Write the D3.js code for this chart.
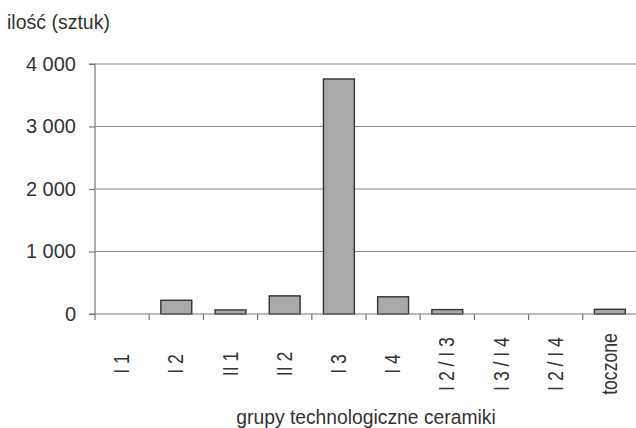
<!DOCTYPE html>
<html>
<head>
<meta charset="utf-8">
<script src="https://cdn.jsdelivr.net/npm/d3@7"></script>
<style>
  body { margin: 0; background: #fff; }
  text { font-family: "Liberation Sans", Arial, sans-serif; fill: #333; }
</style>
</head>
<body>
<div id="plot"></div>
<script>
// data

  var categories = ["I 1", "I 2", "II 1", "II 2", "I 3", "I 4", "I 2 / I 3", "I 3 / I 4", "I 2 / I 4", "toczone"];
  var counts = [0, 220, 65, 290, 3760, 275, 70, 0, 0, 75];
  var yTicks = [0, 1000, 2000, 3000, 4000];

  var w = 636;
  var h = 428;
  var margin = {top: 64, right: -1, bottom: 114, left: 95};
  var innerWidth = w - margin.left - margin.right;
  var innerHeight = h - margin.top - margin.bottom;

  var xScale = d3.scaleBand()
      .domain(categories)
      .range([0, innerWidth])
      .paddingInner(0.43)
      .paddingOuter(0.215);

  var yScale = d3.scaleLinear()
      .domain([0, 4000])
      .range([innerHeight, 0]);

  var fmt = d => d3.format(",")(d).replace(",", " ");

  var svg = d3.select("div#plot")
    .append("svg")
      .attr("width", w)
      .attr("height", h);

  var g = svg.append("g")
      .attr("transform", `translate(${margin.left}, ${margin.top})`);

// gridlines

  g.selectAll("line.grid")
      .data(yTicks.filter(d => d > 0))
    .enter().append("line")
      .attr("class", "grid")
      .attr("x1", 0)
      .attr("x2", innerWidth)
      .attr("y1", d => yScale(d))
      .attr("y2", d => yScale(d))
      .attr("stroke", "#8a8a8a")
      .attr("stroke-width", 1.2);

// bars

  g.selectAll("rect.bar")
      .data(counts)
    .enter().append("rect")
      .attr("class", "bar")
      .attr("x", (d, i) => xScale(categories[i]))
      .attr("y", d => yScale(d))
      .attr("width", xScale.bandwidth())
      .attr("height", d => innerHeight - yScale(d))
      .attr("fill", "#a9a9a9")
      .attr("stroke", "#333")
      .attr("stroke-width", 1.4)
      .style("display", d => d > 0 ? null : "none");

// y axis

  var yAxis = d3.axisLeft(yScale)
      .tickValues(yTicks)
      .tickSize(6)
      .tickPadding(13)
      .tickFormat(fmt);

  var gy = g.append("g").call(yAxis);
  gy.select(".domain").attr("stroke", "#777").attr("stroke-width", 1.2).attr("d", `M-6,${innerHeight}H0V0H-6`);
  gy.selectAll(".tick line").attr("stroke", "#777").attr("stroke-width", 1.2);
  gy.selectAll(".tick text")
      .style("font-size", "20px")
      .attr("fill", "#333");

// x axis: ticks sit between categories

  var step = xScale.step();
  var bounds = d3.range(categories.length + 1).map(i => i * step);

  g.append("line")
      .attr("x1", 0)
      .attr("x2", innerWidth)
      .attr("y1", innerHeight)
      .attr("y2", innerHeight)
      .attr("stroke", "#777")
      .attr("stroke-width", 1.2);

  g.selectAll("line.xtick")
      .data(bounds)
    .enter().append("line")
      .attr("class", "xtick")
      .attr("x1", d => d)
      .attr("x2", d => d)
      .attr("y1", innerHeight)
      .attr("y2", innerHeight + 6)
      .attr("stroke", "#777")
      .attr("stroke-width", 1.2);

  // labels look like a narrow face: squeeze along the text direction
  g.selectAll("text.xlab")
      .data(categories)
    .enter().append("text")
      .attr("class", "xlab")
      .attr("transform", d => `translate(${xScale(d) + xScale.bandwidth() / 2 + 7}, ${innerHeight + 50}) rotate(-90) scale(0.8, 1)`)
      .attr("text-anchor", "middle")
      .style("font-size", "22px")
      .text(d => d);

// titles

  svg.append("text")
      .attr("x", 7)
      .attr("y", 29)
      .style("font-size", "19.5px")
      .text("ilość (sztuk)");

  svg.append("text")
      .attr("x", margin.left + innerWidth / 2)
      .attr("y", 424)
      .attr("text-anchor", "middle")
      .style("font-size", "19.3px")
      .text("grupy technologiczne ceramiki");
</script>
</body>
</html>
